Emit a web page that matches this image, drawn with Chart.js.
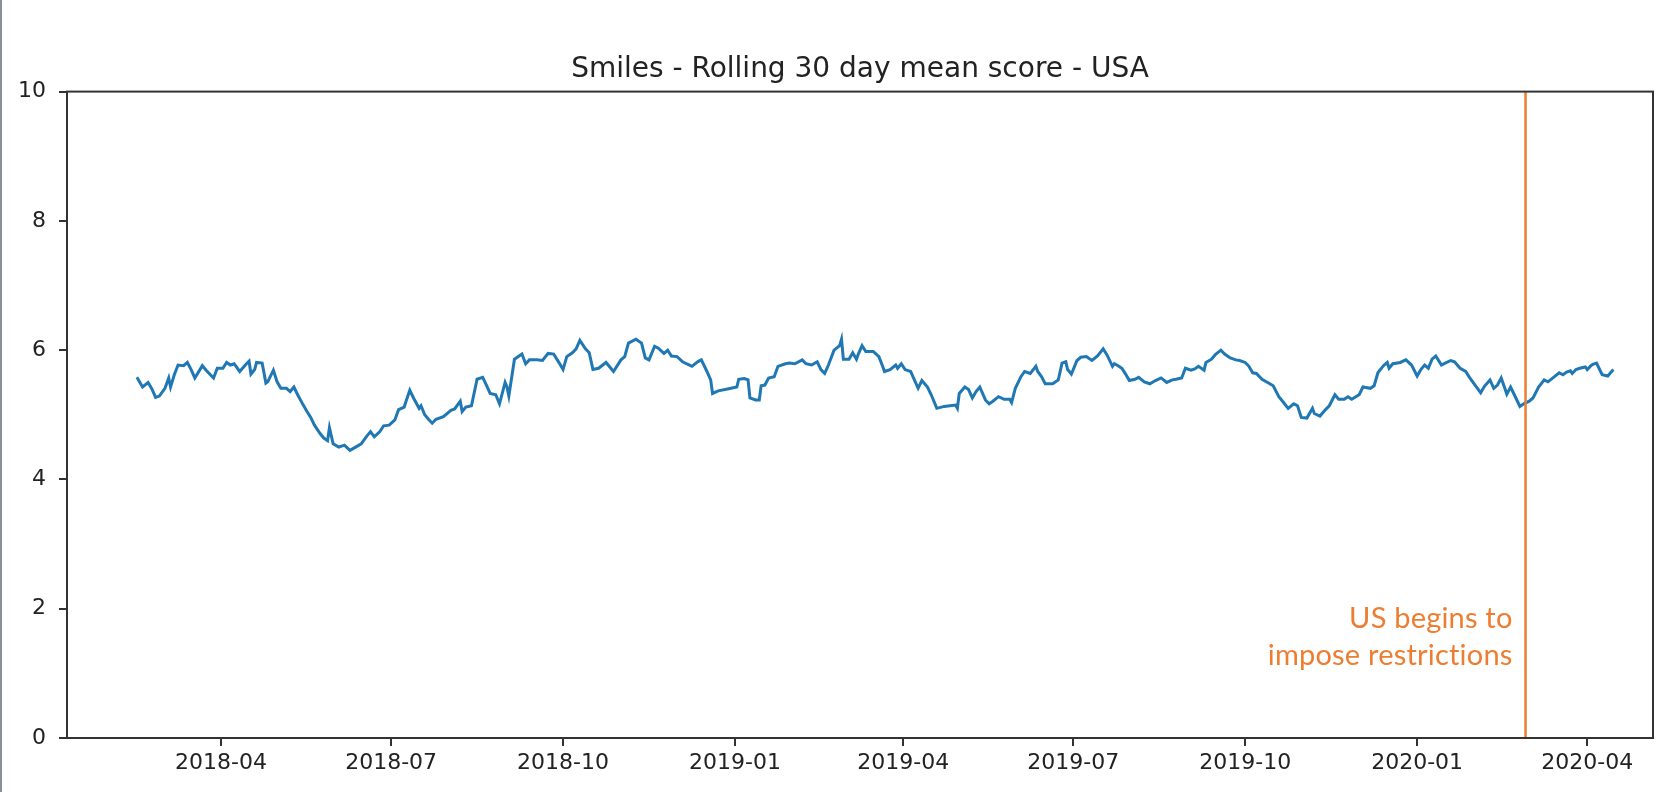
<!DOCTYPE html>
<html>
<head>
<meta charset="utf-8">
<title>Smiles - Rolling 30 day mean score - USA</title>
<script src="https://cdn.jsdelivr.net/npm/chart.js@4.4.1/dist/chart.umd.min.js"></script>
<style>
  html, body { margin: 0; padding: 0; background: #fff; }
  #wrap { position: relative; width: 1674px; height: 792px; }
  #edge { position: absolute; left: 0; top: 0; width: 2px; height: 792px; background: #8a8f99; }
</style>
</head>
<body>
<div id="wrap">
  <canvas id="smilesChart" width="1674" height="792"></canvas>
  <div id="edge"></div>
</div>
<script>
// Rolling 30 day mean
const dates = [
  "2018-02-15", "2018-02-18", "2018-02-21", "2018-02-23", "2018-02-25", "2018-02-27", "2018-03-02", "2018-03-04",
  "2018-03-05", "2018-03-07", "2018-03-09", "2018-03-12", "2018-03-14", "2018-03-16", "2018-03-18", "2018-03-22",
  "2018-03-24", "2018-03-28", "2018-03-30", "2018-04-02", "2018-04-04", "2018-04-06", "2018-04-08", "2018-04-11",
  "2018-04-14", "2018-04-16", "2018-04-17", "2018-04-19", "2018-04-20", "2018-04-23", "2018-04-25", "2018-04-26",
  "2018-04-29", "2018-05-01", "2018-05-03", "2018-05-06", "2018-05-08", "2018-05-10", "2018-05-12", "2018-05-15",
  "2018-05-17", "2018-05-19", "2018-05-21", "2018-05-24", "2018-05-26", "2018-05-28", "2018-05-29", "2018-05-31",
  "2018-06-03", "2018-06-06", "2018-06-09", "2018-06-12", "2018-06-15", "2018-06-18", "2018-06-20", "2018-06-22",
  "2018-06-25", "2018-06-27", "2018-06-30", "2018-07-03", "2018-07-05", "2018-07-08", "2018-07-09", "2018-07-11",
  "2018-07-13", "2018-07-16", "2018-07-17", "2018-07-19", "2018-07-21", "2018-07-23", "2018-07-25", "2018-07-29",
  "2018-08-02", "2018-08-04", "2018-08-07", "2018-08-08", "2018-08-10", "2018-08-13", "2018-08-16", "2018-08-19",
  "2018-08-21", "2018-08-23", "2018-08-26", "2018-08-28", "2018-08-31", "2018-09-01", "2018-09-02", "2018-09-05",
  "2018-09-09", "2018-09-11", "2018-09-13", "2018-09-17", "2018-09-20", "2018-09-23", "2018-09-26", "2018-09-29",
  "2018-10-01", "2018-10-03", "2018-10-06", "2018-10-08", "2018-10-10", "2018-10-13", "2018-10-15", "2018-10-17",
  "2018-10-20", "2018-10-24", "2018-10-28", "2018-11-01", "2018-11-03", "2018-11-05", "2018-11-09", "2018-11-12",
  "2018-11-14", "2018-11-16", "2018-11-19", "2018-11-21", "2018-11-24", "2018-11-26", "2018-11-28", "2018-12-01",
  "2018-12-04", "2018-12-06", "2018-12-09", "2018-12-12", "2018-12-14", "2018-12-17", "2018-12-19", "2018-12-20",
  "2018-12-23", "2018-12-28", "2019-01-02", "2019-01-03", "2019-01-06", "2019-01-08", "2019-01-09", "2019-01-12",
  "2019-01-14", "2019-01-15", "2019-01-17", "2019-01-19", "2019-01-22", "2019-01-24", "2019-01-28", "2019-01-30",
  "2019-02-02", "2019-02-06", "2019-02-08", "2019-02-11", "2019-02-14", "2019-02-16", "2019-02-18", "2019-02-20",
  "2019-02-23", "2019-02-26", "2019-02-27", "2019-02-28", "2019-03-03", "2019-03-05", "2019-03-07", "2019-03-08",
  "2019-03-10", "2019-03-12", "2019-03-16", "2019-03-19", "2019-03-21", "2019-03-22", "2019-03-25", "2019-03-28",
  "2019-03-29", "2019-03-31", "2019-04-02", "2019-04-05", "2019-04-07", "2019-04-09", "2019-04-11", "2019-04-14",
  "2019-04-16", "2019-04-19", "2019-04-23", "2019-04-26", "2019-04-29", "2019-04-30", "2019-05-01", "2019-05-04",
  "2019-05-06", "2019-05-08", "2019-05-10", "2019-05-12", "2019-05-15", "2019-05-17", "2019-05-19", "2019-05-22",
  "2019-05-25", "2019-05-28", "2019-05-29", "2019-05-31", "2019-06-03", "2019-06-05", "2019-06-08", "2019-06-11",
  "2019-06-12", "2019-06-14", "2019-06-16", "2019-06-20", "2019-06-23", "2019-06-25", "2019-06-27", "2019-06-28",
  "2019-06-30", "2019-07-03", "2019-07-05", "2019-07-08", "2019-07-11", "2019-07-14", "2019-07-17", "2019-07-19",
  "2019-07-22", "2019-07-23", "2019-07-25", "2019-07-27", "2019-07-29", "2019-07-31", "2019-08-03", "2019-08-05",
  "2019-08-08", "2019-08-11", "2019-08-14", "2019-08-17", "2019-08-20", "2019-08-23", "2019-08-25", "2019-08-28",
  "2019-08-30", "2019-09-02", "2019-09-04", "2019-09-06", "2019-09-09", "2019-09-10", "2019-09-13", "2019-09-15",
  "2019-09-18", "2019-09-20", "2019-09-23", "2019-09-26", "2019-09-28", "2019-10-01", "2019-10-03", "2019-10-05",
  "2019-10-07", "2019-10-10", "2019-10-13", "2019-10-16", "2019-10-19", "2019-10-21", "2019-10-24", "2019-10-27",
  "2019-10-29", "2019-10-31", "2019-11-03", "2019-11-06", "2019-11-07", "2019-11-10", "2019-11-13", "2019-11-15",
  "2019-11-18", "2019-11-20", "2019-11-23", "2019-11-25", "2019-11-27", "2019-12-01", "2019-12-03", "2019-12-07",
  "2019-12-09", "2019-12-11", "2019-12-14", "2019-12-16", "2019-12-17", "2019-12-19", "2019-12-23", "2019-12-26",
  "2019-12-29", "2020-01-01", "2020-01-03", "2020-01-05", "2020-01-07", "2020-01-09", "2020-01-11", "2020-01-14",
  "2020-01-16", "2020-01-19", "2020-01-21", "2020-01-24", "2020-01-27", "2020-01-29", "2020-02-01", "2020-02-04",
  "2020-02-06", "2020-02-09", "2020-02-11", "2020-02-13", "2020-02-15", "2020-02-18", "2020-02-20", "2020-02-22",
  "2020-02-25", "2020-02-27", "2020-03-01", "2020-03-03", "2020-03-06", "2020-03-09", "2020-03-11", "2020-03-14",
  "2020-03-17", "2020-03-19", "2020-03-21", "2020-03-23", "2020-03-24", "2020-03-26", "2020-03-28", "2020-03-31",
  "2020-04-01", "2020-04-03", "2020-04-04", "2020-04-06", "2020-04-09", "2020-04-12", "2020-04-15",
]

const scores = [
  5.58, 5.43, 5.50, 5.40, 5.27, 5.29, 5.41, 5.57,
  5.43, 5.62, 5.77, 5.76, 5.81, 5.70, 5.57, 5.76,
  5.69, 5.57, 5.72, 5.72, 5.81, 5.77, 5.79, 5.67,
  5.77, 5.83, 5.63, 5.70, 5.81, 5.80, 5.49, 5.51,
  5.69, 5.51, 5.41, 5.41, 5.36, 5.43, 5.31, 5.15,
  5.05, 4.96, 4.84, 4.71, 4.64, 4.60, 4.80, 4.55,
  4.50, 4.53, 4.45, 4.50, 4.55, 4.67, 4.74, 4.66,
  4.74, 4.83, 4.84, 4.92, 5.08, 5.12, 5.21, 5.38,
  5.26, 5.10, 5.14, 5.00, 4.93, 4.87, 4.93, 4.97,
  5.07, 5.09, 5.21, 5.05, 5.12, 5.14, 5.55, 5.58,
  5.46, 5.33, 5.31, 5.17, 5.50, 5.43, 5.29, 5.86,
  5.94, 5.79, 5.85, 5.85, 5.84, 5.95, 5.94, 5.80,
  5.70, 5.90, 5.96, 6.02, 6.15, 6.02, 5.96, 5.70,
  5.72, 5.81, 5.67, 5.85, 5.90, 6.11, 6.17, 6.11,
  5.88, 5.85, 6.06, 6.03, 5.95, 6.00, 5.91, 5.90,
  5.82, 5.79, 5.75, 5.82, 5.85, 5.67, 5.54, 5.33,
  5.37, 5.40, 5.43, 5.55, 5.56, 5.54, 5.26, 5.23,
  5.23, 5.45, 5.46, 5.57, 5.59, 5.75, 5.79, 5.80,
  5.79, 5.85, 5.79, 5.77, 5.82, 5.70, 5.64, 5.77,
  6.00, 6.07, 6.17, 5.86, 5.86, 5.96, 5.86, 5.94,
  6.07, 5.98, 5.98, 5.90, 5.75, 5.67, 5.70, 5.77,
  5.72, 5.79, 5.70, 5.67, 5.54, 5.41, 5.53, 5.43,
  5.31, 5.10, 5.13, 5.14, 5.15, 5.10, 5.33, 5.43,
  5.39, 5.26, 5.36, 5.43, 5.23, 5.17, 5.21, 5.28,
  5.24, 5.24, 5.19, 5.41, 5.59, 5.67, 5.64, 5.75,
  5.67, 5.59, 5.48, 5.48, 5.54, 5.80, 5.82, 5.70,
  5.63, 5.84, 5.89, 5.90, 5.84, 5.91, 6.02, 5.93,
  5.75, 5.79, 5.76, 5.72, 5.63, 5.53, 5.55, 5.58,
  5.51, 5.48, 5.53, 5.57, 5.50, 5.54, 5.55, 5.57,
  5.72, 5.69, 5.71, 5.75, 5.69, 5.81, 5.86, 5.93,
  6.00, 5.94, 5.88, 5.85, 5.84, 5.81, 5.75, 5.65,
  5.64, 5.55, 5.50, 5.45, 5.28, 5.21, 5.10, 5.17,
  5.14, 4.96, 4.95, 5.10, 5.02, 4.98, 5.08, 5.14,
  5.31, 5.24, 5.24, 5.28, 5.24, 5.31, 5.43, 5.41,
  5.45, 5.65, 5.76, 5.81, 5.72, 5.79, 5.81, 5.85,
  5.77, 5.60, 5.70, 5.77, 5.72, 5.86, 5.91, 5.77,
  5.80, 5.84, 5.82, 5.72, 5.67, 5.58, 5.46, 5.34,
  5.44, 5.54, 5.41, 5.46, 5.57, 5.32, 5.43, 5.31,
  5.13, 5.17, 5.21, 5.26, 5.43, 5.54, 5.51, 5.58,
  5.65, 5.62, 5.66, 5.68, 5.64, 5.70, 5.72, 5.74,
  5.70, 5.76, 5.78, 5.80, 5.62, 5.60, 5.70,
]

const tickLabels = ["2018-04", "2018-07", "2018-10", "2019-01", "2019-04", "2019-07", "2019-10", "2020-01", "2020-04"]
const yTicks = [0, 2, 4, 6, 8, 10]
const restrictionDate = "2020-02-28"
const noteLines = ["US begins to", "impose restrictions"]

// x limits (matplotlib margins around the data)
const xMin = "2018-01-08T14:00:00Z"
const xMax = "2020-05-06T05:00:00Z"

const points = dates.map((d, i) => ({ x: Date.parse(d), y: scores[i] }))
const restriction = Date.parse(restrictionDate)

const tickFont = { family: "'DejaVu Sans'", size: 22 }
const inkColor = "#222"

// full box around the axes + the orange note
const frameAndNote = {
  id: "frameAndNote",
  afterDatasetsDraw(chart) {
    const { ctx, chartArea, scales } = chart
    ctx.save()
    ctx.strokeStyle = "#333"
    ctx.lineWidth = 2
    ctx.strokeRect(chartArea.left, chartArea.top, chartArea.right - chartArea.left, chartArea.bottom - chartArea.top)

    const x = scales.x.getPixelForValue(restriction) - 13
    ctx.fillStyle = "#ED7D31"
    ctx.font = "29px Lato"
    ctx.letterSpacing = "0.2px" // keeps Lato from joining "ti"
    ctx.textAlign = "right"
    ctx.textBaseline = "middle"
    ctx.fillText(noteLines[0], x, scales.y.getPixelForValue(1.84))
    ctx.fillText(noteLines[1], x, scales.y.getPixelForValue(1.28))
    ctx.restore()
  },
}

const chart = new Chart(document.getElementById("smilesChart"), {
  type: "line",
  data: {
    datasets: [
      {
        label: "restrictions",
        data: [
          { x: restriction, y: 0 },
          { x: restriction, y: 10 },
        ],
        borderColor: "#ED7D31",
        borderWidth: 2.5,
        pointRadius: 0,
      },
      {
        label: "Smiles",
        data: points,
        borderColor: "#1f77b4",
        borderWidth: 3,
        pointRadius: 0,
        tension: 0,
      },
    ],
  },
  options: {
    responsive: false,
    animation: false,
    devicePixelRatio: 1,
    layout: {
      padding: { top: 53, right: 21, bottom: 0, left: 0 },
    },
    plugins: {
      legend: { display: false },
      tooltip: { enabled: false },
      title: {
        display: true,
        fullSize: false,
        text: "Smiles - Rolling 30 day mean score - USA",
        color: inkColor,
        font: { family: "'DejaVu Sans'", size: 28, weight: "normal" },
        padding: { top: 0, bottom: 5 },
      },
    },
    scales: {
      x: {
        type: "linear",
        min: Date.parse(xMin),
        max: Date.parse(xMax),
        afterBuildTicks: (scale) => {
          scale.ticks = tickLabels.map((l) => ({ value: Date.parse(l + "-01") }))
        },
        afterFit: (scale) => {
          scale.height = 54
        },
        grid: {
          display: true,
          drawOnChartArea: false,
          drawTicks: true,
          tickLength: 8,
          color: "#333",
          lineWidth: 2,
        },
        border: { display: false },
        ticks: {
          callback: (value, index) => tickLabels[index],
          color: inkColor,
          font: tickFont,
          padding: 4,
          maxRotation: 0,
          autoSkip: false,
        },
      },
      y: {
        min: 0,
        max: 10,
        afterBuildTicks: (scale) => {
          scale.ticks = yTicks.map((v) => ({ value: v }))
        },
        afterFit: (scale) => {
          scale.width = 67
        },
        grid: {
          display: true,
          drawOnChartArea: false,
          drawTicks: true,
          tickLength: 8,
          color: "#333",
          lineWidth: 2,
        },
        border: { display: false },
        ticks: {
          callback: (value) => String(value),
          color: inkColor,
          font: tickFont,
          padding: 13,
        },
      },
    },
  },
  plugins: [frameAndNote],
})
</script>
</body>
</html>
